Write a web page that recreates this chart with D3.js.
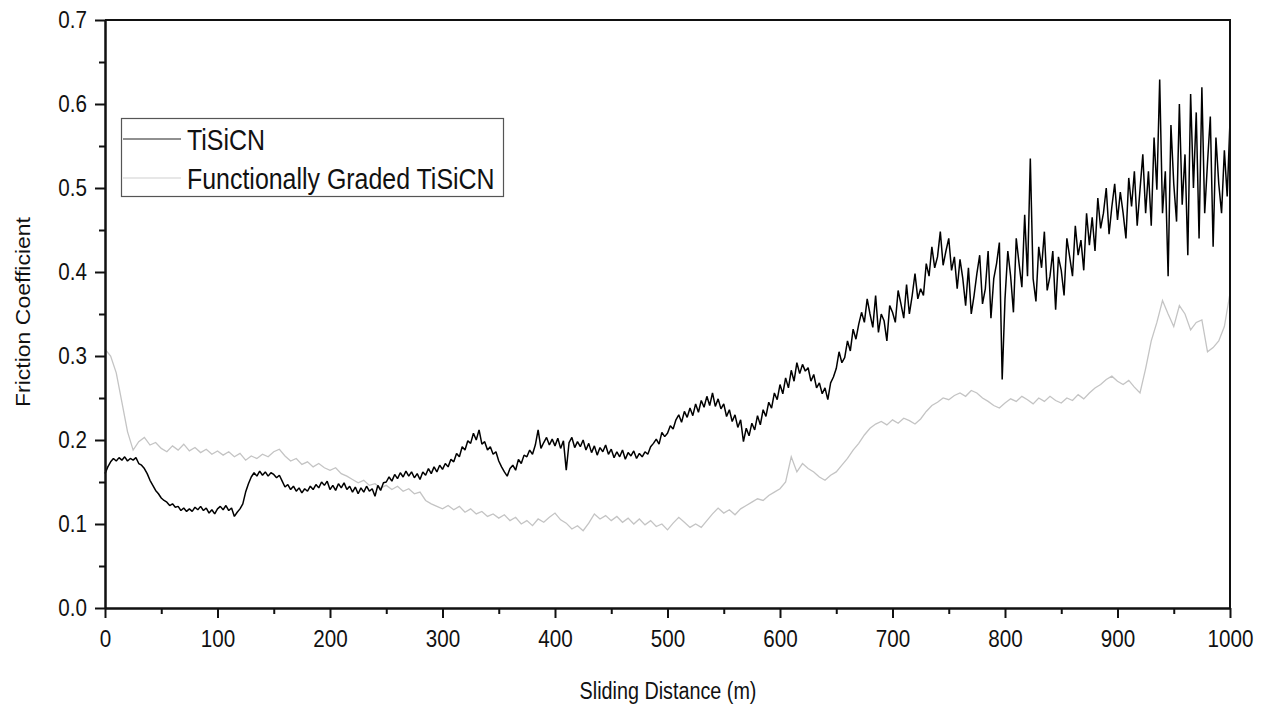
<!DOCTYPE html>
<html>
<head>
<meta charset="utf-8">
<script src="https://cdn.jsdelivr.net/npm/d3@7"></script>
<style>
	body { margin: 0; background: #fff; }
	#frictionDiv { width: 1269px; height: 706px; }
	text { font-family: "Liberation Sans", Arial, sans-serif; fill: #111; }
</style>
</head>
<body>
<div id="frictionDiv"></div>
<script>
// sampling step of each series (m)
let stepTiSiCN = 2.5;
let stepGraded = 5;

// TiSiCN friction coefficient, one value every 2.5 m from 0 to 1000 m
let frictionTiSiCN = [
	0.160, 0.168, 0.174, 0.178, 0.175, 0.179, 0.176, 0.180, 0.175, 0.178,
	0.176, 0.179, 0.172, 0.170, 0.166, 0.160, 0.152, 0.146, 0.140, 0.136,
	0.131, 0.128, 0.126, 0.122, 0.124, 0.120, 0.121, 0.116, 0.119, 0.115,
	0.118, 0.115, 0.120, 0.117, 0.121, 0.116, 0.119, 0.113, 0.117, 0.112,
	0.118, 0.121, 0.117, 0.122, 0.116, 0.119, 0.109, 0.114, 0.118, 0.124,
	0.138, 0.148, 0.156, 0.161, 0.157, 0.163, 0.158, 0.162, 0.157, 0.161,
	0.159, 0.155, 0.158, 0.151, 0.144, 0.147, 0.141, 0.145, 0.139, 0.143,
	0.137, 0.142, 0.139, 0.145, 0.141, 0.147, 0.143, 0.150, 0.146, 0.151,
	0.141, 0.146, 0.140, 0.148, 0.143, 0.149, 0.141, 0.145, 0.138, 0.144,
	0.136, 0.143, 0.138, 0.145, 0.139, 0.142, 0.133, 0.146, 0.140, 0.149,
	0.150, 0.156, 0.151, 0.159, 0.154, 0.161, 0.156, 0.163, 0.157, 0.162,
	0.155, 0.160, 0.153, 0.162, 0.158, 0.166, 0.160, 0.168, 0.162, 0.170,
	0.165, 0.172, 0.168, 0.177, 0.174, 0.184, 0.180, 0.192, 0.188, 0.199,
	0.196, 0.208, 0.200, 0.212, 0.195, 0.198, 0.188, 0.192, 0.183, 0.186,
	0.175, 0.168, 0.162, 0.157, 0.166, 0.170, 0.164, 0.177, 0.172, 0.182,
	0.180, 0.188, 0.183, 0.194, 0.212, 0.190, 0.197, 0.203, 0.194, 0.201,
	0.193, 0.202, 0.190, 0.199, 0.164, 0.197, 0.203, 0.191, 0.198, 0.192,
	0.200, 0.188, 0.196, 0.185, 0.193, 0.182, 0.191, 0.186, 0.194, 0.183,
	0.189, 0.179, 0.186, 0.180, 0.188, 0.177, 0.185, 0.181, 0.187, 0.178,
	0.184, 0.180, 0.186, 0.183, 0.192, 0.196, 0.201, 0.195, 0.209, 0.204,
	0.208, 0.217, 0.213, 0.224, 0.230, 0.221, 0.234, 0.227, 0.238, 0.229,
	0.243, 0.233, 0.247, 0.239, 0.252, 0.241, 0.256, 0.240, 0.249, 0.237,
	0.243, 0.228, 0.236, 0.222, 0.230, 0.215, 0.224, 0.198, 0.214, 0.205,
	0.220, 0.212, 0.229, 0.218, 0.236, 0.228, 0.245, 0.238, 0.256, 0.248,
	0.266, 0.255, 0.274, 0.262, 0.283, 0.270, 0.292, 0.279, 0.290, 0.282,
	0.286, 0.270, 0.278, 0.262, 0.268, 0.255, 0.262, 0.248, 0.268, 0.275,
	0.285, 0.305, 0.292, 0.298, 0.318, 0.306, 0.332, 0.320, 0.338, 0.352,
	0.340, 0.368, 0.350, 0.334, 0.372, 0.328, 0.350, 0.342, 0.318, 0.360,
	0.352, 0.340, 0.378, 0.362, 0.345, 0.385, 0.350, 0.372, 0.398, 0.368,
	0.380, 0.372, 0.410, 0.395, 0.430, 0.405, 0.418, 0.448, 0.408, 0.425,
	0.440, 0.402, 0.418, 0.380, 0.415, 0.392, 0.360, 0.405, 0.350, 0.372,
	0.398, 0.420, 0.362, 0.380, 0.425, 0.345, 0.392, 0.410, 0.435, 0.272,
	0.368, 0.425, 0.395, 0.352, 0.440, 0.410, 0.382, 0.468, 0.395, 0.535,
	0.392, 0.365, 0.430, 0.405, 0.448, 0.378, 0.395, 0.425, 0.355, 0.418,
	0.402, 0.372, 0.440, 0.418, 0.395, 0.455, 0.420, 0.438, 0.402, 0.470,
	0.432, 0.465, 0.425, 0.488, 0.452, 0.470, 0.500, 0.445, 0.478, 0.505,
	0.462, 0.495, 0.470, 0.440, 0.512, 0.478, 0.520, 0.455, 0.498, 0.540,
	0.470, 0.520, 0.455, 0.560, 0.498, 0.629, 0.470, 0.520, 0.395, 0.575,
	0.505, 0.460, 0.600, 0.480, 0.540, 0.420, 0.612, 0.500, 0.590, 0.440,
	0.620, 0.470, 0.530, 0.585, 0.430, 0.560, 0.505, 0.470, 0.545, 0.490, 0.580
];

// Functionally graded TiSiCN, one value every 5 m
let frictionGraded = [
	0.308, 0.300, 0.280, 0.245, 0.210, 0.188, 0.198, 0.203, 0.194, 0.197,
	0.190, 0.186, 0.193, 0.188, 0.195, 0.187, 0.191, 0.185, 0.189, 0.183,
	0.187, 0.182, 0.186, 0.180, 0.184, 0.176, 0.181, 0.178, 0.183, 0.180,
	0.186, 0.189, 0.181, 0.175, 0.178, 0.171, 0.174, 0.168, 0.172, 0.167,
	0.164, 0.167, 0.160, 0.157, 0.153, 0.149, 0.152, 0.146, 0.148, 0.143,
	0.146, 0.141, 0.145, 0.139, 0.142, 0.136, 0.138, 0.128, 0.124, 0.121,
	0.118, 0.122, 0.117, 0.121, 0.114, 0.118, 0.112, 0.115, 0.109, 0.112,
	0.107, 0.111, 0.104, 0.108, 0.100, 0.104, 0.098, 0.106, 0.102, 0.108,
	0.113, 0.105, 0.101, 0.094, 0.098, 0.092, 0.101, 0.112, 0.106, 0.110,
	0.104, 0.109, 0.102, 0.107, 0.100, 0.106, 0.099, 0.104, 0.097, 0.100,
	0.093, 0.101, 0.108, 0.102, 0.096, 0.100, 0.096, 0.104, 0.112, 0.119,
	0.113, 0.117, 0.111, 0.118, 0.122, 0.126, 0.130, 0.128, 0.134, 0.138,
	0.142, 0.150, 0.180, 0.162, 0.172, 0.166, 0.162, 0.156, 0.152, 0.158,
	0.162, 0.170, 0.178, 0.188, 0.196, 0.206, 0.214, 0.219, 0.222, 0.218,
	0.224, 0.220, 0.226, 0.223, 0.219, 0.225, 0.234, 0.241, 0.245, 0.250,
	0.248, 0.253, 0.256, 0.252, 0.259, 0.256, 0.250, 0.246, 0.241, 0.238,
	0.244, 0.249, 0.246, 0.252, 0.248, 0.243, 0.250, 0.246, 0.252, 0.247,
	0.244, 0.250, 0.247, 0.254, 0.249, 0.256, 0.262, 0.266, 0.272, 0.276,
	0.270, 0.266, 0.271, 0.263, 0.256, 0.285, 0.318, 0.340, 0.366, 0.350,
	0.335, 0.360, 0.350, 0.331, 0.340, 0.343, 0.305, 0.310, 0.318, 0.335, 0.375
];

let yMajorTicks = [0, 0.1, 0.2, 0.3, 0.4, 0.5, 0.6, 0.7];
let yMinorTicks = [0.05, 0.15, 0.25, 0.35, 0.45, 0.55, 0.65];
let xMajorTicks = [0, 100, 200, 300, 400, 500, 600, 700, 800, 900, 1000];
let xMinorTicks = [50, 150, 250, 350, 450, 550, 650, 750, 850, 950];

let seriesNames = ["TiSiCN", "Functionally Graded TiSiCN"];
let seriesColors = ["#000000", "#c4c4c4"];

let xLabel = "Sliding Distance (m)";
let yLabel = "Friction Coefficient";

function drawFrictionChart(){
	let svg = d3.select("#frictionDiv")
				.append("svg")
				.attr("width", 1269)
				.attr("height", 706);

	let left = 105, right = 1230, top = 20, bottom = 608;
	let squeeze = "scale(0.86,1)";   // source picture has narrow glyphs

	let xScale = d3.scaleLinear()
				.domain([0, 1000])
				.range([left, right]);

	let yScale = d3.scaleLinear()
				.domain([0, 0.7])
				.range([bottom, top]);

	let tisicnData = frictionTiSiCN.map(function(v, i){ return [i * stepTiSiCN, v]; });
	let gradedData = frictionGraded.map(function(v, i){ return [i * stepGraded, v]; });

	let valueline = d3.line()
		.x(function(d){ return xScale(d[0]); })
		.y(function(d){ return yScale(d[1]); });

	// gray first so the black curve sits on top
	svg.append("path")
		.datum(gradedData)
		.attr("fill", "none")
		.attr("stroke", seriesColors[1])
		.attr("stroke-width", 1.3)
		.attr("d", valueline);

	svg.append("path")
		.datum(tisicnData)
		.attr("fill", "none")
		.attr("stroke", seriesColors[0])
		.attr("stroke-width", 1.5)
		.attr("stroke-linejoin", "bevel")
		.attr("d", valueline);

	// frame: top and right sides are plain lines
	svg.append("path")
		.attr("d", "M" + left + "," + top + "H" + right + "V" + bottom)
		.attr("fill", "none")
		.attr("stroke", "#111")
		.attr("stroke-width", 2);

	// minor ticks
	svg.append("g")
		.attr("transform", "translate(" + left + ",0)")
		.call(d3.axisLeft(yScale).tickValues(yMinorTicks).tickSize(6).tickSizeOuter(0).tickFormat(""))
		.call(styleAxis);

	svg.append("g")
		.attr("transform", "translate(0," + bottom + ")")
		.call(d3.axisBottom(xScale).tickValues(xMinorTicks).tickSize(6).tickSizeOuter(0).tickFormat(""))
		.call(styleAxis);

	// major ticks with labels
	let yAxis = svg.append("g")
		.attr("transform", "translate(" + left + ",0)")
		.call(d3.axisLeft(yScale).tickValues(yMajorTicks).tickSize(10).tickSizeOuter(0).tickPadding(11).tickFormat(d3.format(".1f")))
		.call(styleAxis);

	let xAxis = svg.append("g")
		.attr("transform", "translate(0," + bottom + ")")
		.call(d3.axisBottom(xScale).tickValues(xMajorTicks).tickSize(10).tickSizeOuter(0).tickPadding(12).tickFormat(d3.format("d")))
		.call(styleAxis);

	yAxis.selectAll("text").attr("transform", squeeze);
	xAxis.selectAll("text").attr("transform", squeeze);

	// axis titles
	svg.append("text")
		.attr("transform", "translate(668,699) " + squeeze)
		.attr("text-anchor", "middle")
		.style("font-size", "23px")
		.text(xLabel);

	svg.append("text")
		.attr("transform", "translate(30,312) rotate(-90) scale(1,0.86)")
		.attr("text-anchor", "middle")
		.style("font-size", "23px")
		.text(yLabel);

	// legend
	let legend = svg.append("g");
	legend.append("rect")
		.attr("x", 121.5)
		.attr("y", 118.5)
		.attr("width", 382)
		.attr("height", 78)
		.attr("fill", "#fff")
		.attr("stroke", "#555")
		.attr("stroke-width", 1.2);

	let rowY = [139, 178];
	seriesNames.forEach(function(name, i){
		legend.append("line")
			.attr("x1", 123).attr("x2", 181)
			.attr("y1", rowY[i]).attr("y2", rowY[i])
			.attr("stroke", i == 0 ? "#222" : "#cfcfcf")
			.attr("stroke-width", 1.2);
		legend.append("text")
			.attr("transform", "translate(187," + (rowY[i] + 11) + ") " + squeeze)
			.style("font-size", "29px")
			.text(name);
	});
}

function styleAxis(g){
	g.select(".domain").attr("stroke", "#111").attr("stroke-width", 2);
	g.selectAll(".tick line").attr("stroke", "#111").attr("stroke-width", 2);
	g.selectAll(".tick text")
		.style("font-size", "24px")
		.style("font-family", "'Liberation Sans', Arial, sans-serif")
		.attr("fill", "#111");
}

drawFrictionChart();
</script>
</body>
</html>
